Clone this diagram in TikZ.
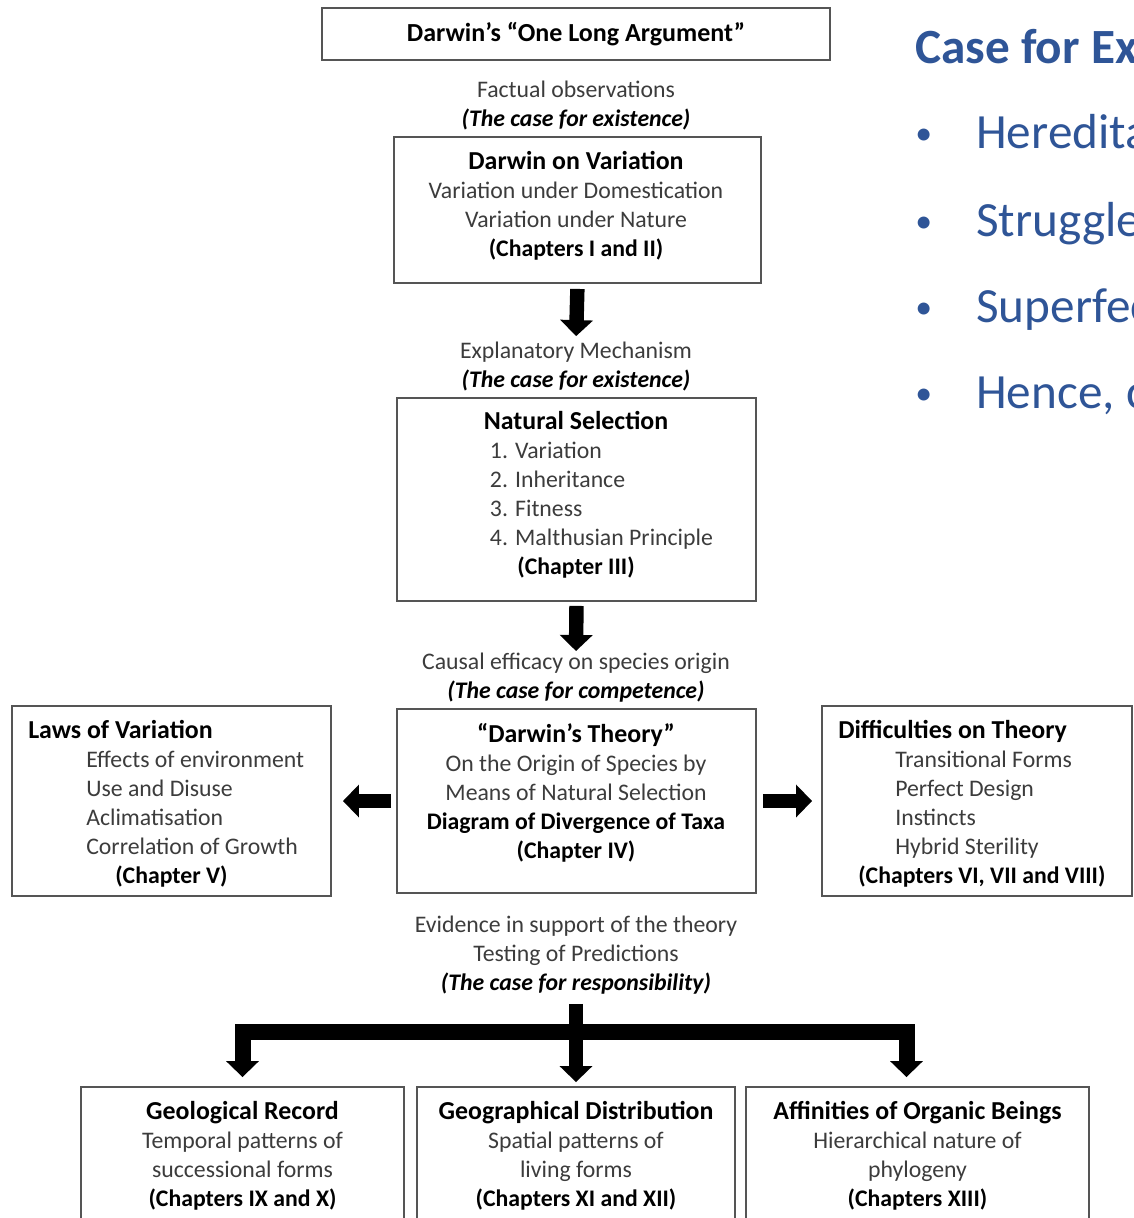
\documentclass[tikz,border=0pt]{standalone}
\usepackage{fontspec}
\setmainfont{Carlito}
\usetikzlibrary{arrows.meta,positioning}
\definecolor{argblue}{RGB}{47,85,151}
\definecolor{arggray}{RGB}{60,60,60}
\definecolor{argline}{RGB}{85,85,85}
\newcommand{\bodyfont}{\fontsize{16.9}{20.6}\selectfont}
\newcommand{\slidefont}{\fontsize{35}{42}\selectfont}
\newcommand{\argbf}[1]{\textbf{\color{black}#1}}
\newcommand{\arghead}[1]{{\fontsize{18.4}{20.6}\selectfont\bfseries\color{black}#1}}
\newcommand{\argit}[1]{\textbf{\textit{\color{black}#1}}}
\tikzset{
  argbox/.style={rectangle,draw=argline,line width=1.3pt,inner sep=0pt},
  argtext/.style={align=center,text=arggray,font=\bodyfont,inner sep=0pt,yshift=-0.05cm},
  blockarr/.style={line width=#1,-{Triangle[width=0.8cm,length=0.4cm]}},
  blockarr/.default=0.36cm,
  slidetext/.style={anchor=base west,inner sep=0pt,text=argblue,font=\slidefont},
}
\begin{document}
\begin{tikzpicture}[x=0.025cm,y=-0.025cm]
  \useasboundingbox (0,0) rectangle (1133,1218);
  \clip (0,0) rectangle (1133,1218);

  %% Title
  \node[argbox,minimum width=12.7cm,minimum height=1.3cm,
        font=\fontsize{18.5}{21}\selectfont\bfseries]
    (title) at (576,34) {Darwin’s “One Long Argument”};

  %% Variation
  \node[argtext] (observ) at (576,103.5)
    {Factual observations\\\argit{(The case for existence)}};
  \node[argbox,minimum width=9.175cm,minimum height=3.65cm]
    (variationbox) at (577.5,210) {};
  \node[argtext] (variation) at (576,204)
    {\arghead{Darwin on Variation}\\Variation under Domestication\\
     Variation under Nature\\\argbf{(Chapters I and II)}};

  %% Natural selection
  \node[argtext] (mechanism) at (576,364.5)
    {Explanatory Mechanism\\\argit{(The case for existence)}};
  \draw[blockarr,shorten <=0.125cm,shorten >=0.14cm]
    (variationbox.south) -- (mechanism.north);
  \node[argbox,minimum width=8.975cm,minimum height=5.075cm]
    (selectionbox) at (576.5,499.5) {};
  \node[argtext] (selection) at (576,493)
    {\arghead{Natural Selection}\\
     \makebox[4.3cm][l]{1. Variation}\\
     \makebox[4.3cm][l]{2. Inheritance}\\
     \makebox[4.3cm][l]{3. Fitness}\\
     \makebox[4.3cm][l]{4. Malthusian Principle}\\
     \argbf{(Chapter III)}};

  %% Darwin's theory
  \node[argtext] (efficacy) at (576,675.5)
    {Causal efficacy on species origin\\\argit{(The case for competence)}};
  \draw[blockarr,shorten <=0.1cm,shorten >=0.04cm]
    (selectionbox.south) -- (efficacy.north);
  \node[argbox,minimum width=8.975cm,minimum height=4.6cm]
    (theorybox) at (576.5,801) {};
  \node[argtext] (theory) at (576,790.5)
    {\arghead{“Darwin’s Theory”}\\On the Origin of Species by\\
     Means of Natural Selection\\\argbf{Diagram of Divergence of Taxa}\\
     \argbf{(Chapter IV)}};

  %% Side boxes
  \node[argbox,minimum width=7.975cm,minimum height=4.75cm]
    (lawsbox) at (171.5,801) {};
  \node[argtext,align=left,anchor=west] (laws) at (28,801.5)
    {\arghead{Laws of Variation}\\
     \hspace*{1.45cm}Effects of environment\\
     \hspace*{1.45cm}Use and Disuse\\
     \hspace*{1.45cm}Aclimatisation\\
     \hspace*{1.45cm}Correlation of Growth\\
     \hspace*{2.175cm}\argbf{(Chapter V)}};
  \draw[blockarr,shorten <=0.125cm,shorten >=0.275cm]
    (theorybox.west) -- (lawsbox.east);

  \node[argbox,minimum width=7.75cm,minimum height=4.75cm]
    (difficultybox) at (977,801) {};
  \node[argtext,align=left,anchor=west] (difficulty) at (838,801.5)
    {\arghead{Difficulties on Theory}\\
     \hspace*{1.425cm}Transitional Forms\\
     \hspace*{1.425cm}Perfect Design\\
     \hspace*{1.425cm}Instincts\\
     \hspace*{1.425cm}Hybrid Sterility\\
     \hspace*{0.5cm}\argbf{(Chapters VI, VII and VIII)}};
  \draw[blockarr,shorten <=0.15cm,shorten >=0.225cm]
    (theorybox.east) -- (difficultybox.west);

  %% Evidence
  \node[argtext] (evidence) at (576,953.5)
    {Evidence in support of the theory\\Testing of Predictions\\
     \argit{(The case for responsibility)}};

  \foreach \name/\x/\w/\head/\lineA/\lineB/\chap in {
    geol/242.5/8.075/Geological Record/Temporal patterns of/successional forms/Chapters IX and X,
    geog/576/7.95/Geographical Distribution/Spatial patterns of/living forms/Chapters XI and XII,
    aff/917.5/8.575/Affinities of Organic Beings/Hierarchical nature of/phylogeny/Chapters XIII}{
    \node[argbox,minimum width=\w cm,minimum height=3.825cm]
      (box\name) at (\x,1163.5) {};
    \node[argtext] (\name) at (\x,1153.5)
      {\arghead{\head}\\\lineA\\\lineB\\\argbf{(\chap)}};
  }

  \coordinate (fork) at (576,1032);
  \draw[blockarr,shorten <=0.225cm,shorten >=0.1cm]
    (evidence.south) -- (boxgeog.north);
  \draw[blockarr=0.4cm,shorten >=0.225cm] (fork) -| (boxgeol.north);
  \draw[blockarr=0.4cm,shorten >=0.225cm] (fork) -| ([xshift=-0.275cm]boxaff.north);

  %% Slide text on the right
  \node[slidetext,font=\slidefont\bfseries] (slidehead) at (915,63) {Case for Ex};
  \foreach \txt/\y [count=\i] in {Heredita/148,Struggle/236,Superfec/322,{Hence, c}/408}{
    \node[slidetext,font=\fontsize{24}{28}\selectfont] (bullet\i) at (915,\y-4) {•};
    \node[slidetext] (point\i) at (976,\y) {\txt};
  }

\end{tikzpicture}
\end{document}
